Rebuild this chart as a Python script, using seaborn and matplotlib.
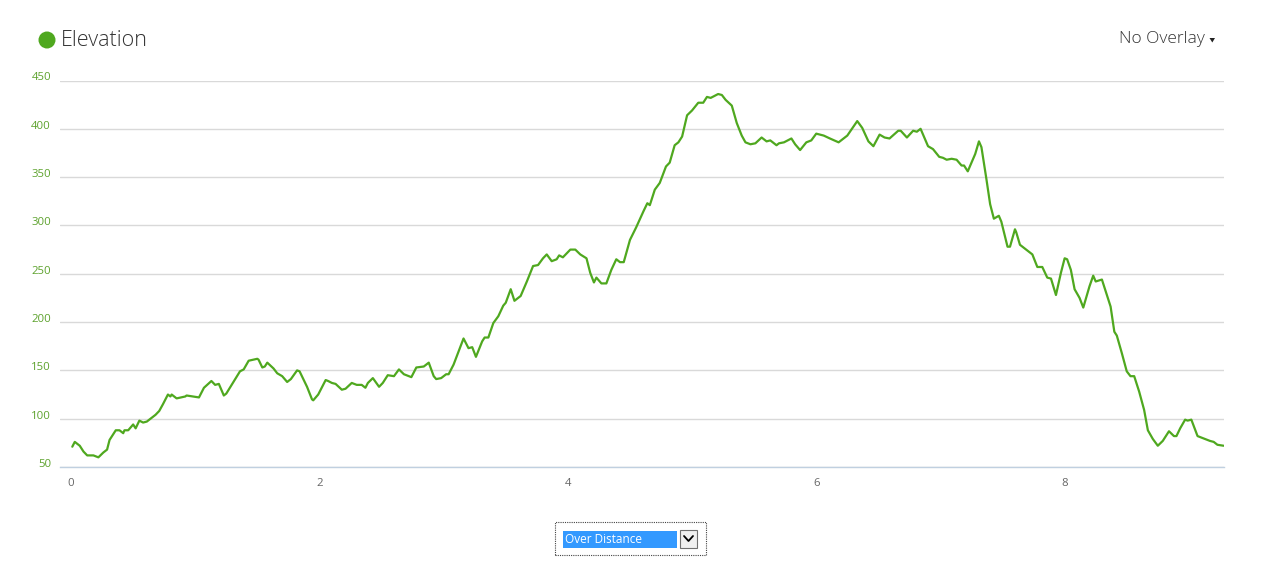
import matplotlib
matplotlib.use("Agg")
import matplotlib.pyplot as plt
import matplotlib.patches as mpatches
import matplotlib.lines as mlines
import pandas as pd
import seaborn as sns

# Elevation profile (distance, elevation)
distance_km = [
    0.01, 0.03, 0.07, 0.10, 0.13, 0.18, 0.22, 0.26, 0.29, 0.31, 0.36, 0.39, 0.42, 0.43, 0.46,
    0.50, 0.52, 0.55, 0.58, 0.61, 0.64, 0.68, 0.71, 0.74, 0.78, 0.80, 0.81, 0.85, 0.92, 0.93,
    0.98, 1.03, 1.07, 1.13, 1.16, 1.19, 1.23, 1.25, 1.36, 1.39, 1.43, 1.50, 1.51, 1.54, 1.56,
    1.58, 1.63, 1.66, 1.70, 1.74, 1.77, 1.82, 1.84,
    1.90, 1.94, 1.95, 1.99, 2.05, 2.07, 2.10, 2.13, 2.18, 2.21, 2.26, 2.30, 2.34, 2.37, 2.39,
    2.43, 2.48, 2.51, 2.55, 2.60, 2.64, 2.68, 2.74, 2.78, 2.84, 2.88, 2.92, 2.94, 2.98, 3.02,
    3.04, 3.08, 3.16, 3.20, 3.23, 3.26, 3.31, 3.33, 3.36, 3.40, 3.44, 3.48, 3.50, 3.54, 3.57,
    3.62, 3.67, 3.72, 3.76, 3.80, 3.83, 3.87, 3.91, 3.93,
    3.96, 4.02, 4.06, 4.10, 4.15, 4.18, 4.21, 4.23, 4.27, 4.31, 4.35, 4.39, 4.42, 4.45, 4.50,
    4.55, 4.61, 4.64, 4.66, 4.70, 4.74, 4.79, 4.82, 4.86, 4.89, 4.92, 4.96, 5.00, 5.05, 5.09,
    5.12, 5.15, 5.21, 5.24, 5.27, 5.32, 5.36, 5.40, 5.43, 5.47, 5.51, 5.56, 5.60, 5.63, 5.65,
    5.68, 5.70, 5.74, 5.80, 5.83, 5.87, 5.92, 5.96, 6.00, 6.06, 6.11, 6.18, 6.25, 6.33, 6.37,
    6.42, 6.46, 6.51, 6.55, 6.59, 6.66, 6.68, 6.73, 6.78, 6.81, 6.84, 6.90, 6.94, 6.99, 7.02,
    7.05, 7.09, 7.13, 7.17, 7.19, 7.22, 7.28, 7.31, 7.33, 7.37, 7.40, 7.43, 7.47, 7.49, 7.54,
    7.56, 7.60, 7.61, 7.64, 7.68, 7.74, 7.78, 7.82, 7.86, 7.89, 7.93, 7.97, 8.00, 8.02, 8.05,
    8.08, 8.12, 8.15, 8.20, 8.23, 8.25, 8.30, 8.37,
    8.40, 8.42, 8.46, 8.50, 8.53, 8.56, 8.60, 8.64, 8.67, 8.71, 8.75, 8.79, 8.84, 8.88, 8.90,
    8.93, 8.97, 8.99, 9.02, 9.07, 9.11, 9.17, 9.20, 9.23, 9.28,
]
elevation_m = [
    71, 76, 72, 66, 62, 62, 60, 65, 68, 78, 88, 88, 85, 88, 88,
    94, 90, 98, 96, 97, 100, 104, 108, 115, 125, 123, 125, 121, 123, 124,
    123, 122, 132, 139, 135, 136, 124, 126, 149, 151, 160, 162, 161, 153, 154,
    158, 152, 147, 144, 138, 141, 150, 149,
    133, 120, 119, 125, 140, 139, 137, 136, 130, 131, 137, 135, 135, 132, 137,
    142, 133, 137, 145, 144, 151, 146, 143, 153, 154, 158, 144, 141, 142, 146,
    146, 156, 183, 173, 174, 164, 180, 184, 184, 199, 206, 217, 220, 234, 222,
    227, 242, 258, 259, 266, 270, 263, 265, 269,
    267, 275, 275, 270, 266, 251, 241, 246, 240, 240, 254, 265, 262, 262, 285,
    298, 315, 323, 321, 337, 344, 361, 365, 383, 386, 392, 414, 419, 427, 427,
    433, 432, 436, 435, 430, 424, 406, 393, 386, 384, 385, 391, 387, 388, 386,
    383, 385, 386, 390, 384, 378, 386, 388, 395, 393, 390, 386, 393, 408, 401,
    387, 382, 394, 391, 390, 398, 398, 391, 398, 397, 400, 382, 379, 371, 370,
    368, 369, 368, 362, 362, 356, 374, 387, 381, 348, 322, 307, 310, 304, 278,
    278, 296, 293, 280, 276, 270, 257, 257, 246, 245, 228, 251, 266, 265, 254,
    234, 225, 215, 237, 248, 242, 244, 216,
    190, 186, 168, 149, 144, 144, 128, 109, 88, 79, 72, 77, 87, 82, 82,
    90, 99, 98, 99, 82, 80, 77, 76, 73, 72,
]
y_ticks = [50, 100, 150, 200, 250, 300, 350, 400, 450]
x_ticks = [0, 2, 4, 6, 8]

sns.set_style("white")
plt.rcParams["font.family"] = ["Open Sans", "DejaVu Sans"]

W, H = 1261, 571
fig = plt.figure(figsize=(W / 100, H / 100), dpi=100)
ax = fig.add_axes([60 / W, 1 - 467 / H, (1224 - 60) / W, (467 - 80.5) / H])

df = pd.DataFrame({"Distance": distance_km, "Elevation": elevation_m})
sns.lineplot(data=df, x="Distance", y="Elevation", ax=ax,
             color="#4fa81f", linewidth=1.6)

ax.set_xlim(-0.089, 9.283)
ax.set_ylim(50, 450)
ax.set_yticks(y_ticks)
ax.set_xticks(x_ticks)
ax.set_xlabel("")
ax.set_ylabel("")
ax.grid(axis="y", color="#d9d9d9", linewidth=1)
ax.set_axisbelow(True)
for s in ["left", "right", "top"]:
    ax.spines[s].set_visible(False)
ax.spines["bottom"].set_color("#c0d0e0")
ax.spines["bottom"].set_linewidth(1)
ax.tick_params(axis="y", length=0, pad=6.5, labelsize=8.2, labelcolor="#5da22d")
ax.tick_params(axis="x", length=0, pad=8, labelsize=8.2, labelcolor="#666666")
for lab in ax.get_yticklabels():
    lab.set_verticalalignment("baseline")


def px(x, y):
    return (x / 100, (H - y) / 100)


tr = fig.dpi_scale_trans

# Title with green dot
fig.add_artist(mpatches.Circle(px(47, 40), 0.085, transform=tr,
                               color="#4fa81f", lw=0))
fig.text(*px(61, 40), "Elevation", transform=tr, fontsize=15.5,
         fontweight="light", color="#333333", va="center", ha="left")

# Overlay selector
fig.text(*px(1205, 39), "No Overlay", transform=tr, fontsize=12.5,
         fontweight="light", color="#333333", va="center", ha="right")
fig.add_artist(mpatches.Polygon([px(1209.5, 38), px(1215, 38), px(1212.3, 42.5)],
                                closed=True, transform=tr, color="#222222", lw=0))

# "Over Distance" dropdown
fig.add_artist(mpatches.Rectangle(px(555, 555), 1.51, 0.33, transform=tr,
                                  fill=False, ec="#444444", lw=0.8, ls=(0, (1, 1))))
fig.add_artist(mpatches.Rectangle(px(563, 548), 1.14, 0.17, transform=tr,
                                  fc="#3399ff", lw=0))
fig.text(*px(565, 539.5), "Over Distance", transform=tr, fontsize=8.5,
         color="white", va="center", ha="left")
fig.add_artist(mpatches.Rectangle(px(680, 548), 0.17, 0.18, transform=tr,
                                  fc="#f0f0f0", ec="#707070", lw=0.8))
fig.add_artist(mlines.Line2D([684 / 100, 688.5 / 100, 693 / 100],
                             [(H - 536) / 100, (H - 541) / 100, (H - 536) / 100],
                             transform=tr, color="black", lw=1.3))

fig.savefig("out.png", dpi=100)
